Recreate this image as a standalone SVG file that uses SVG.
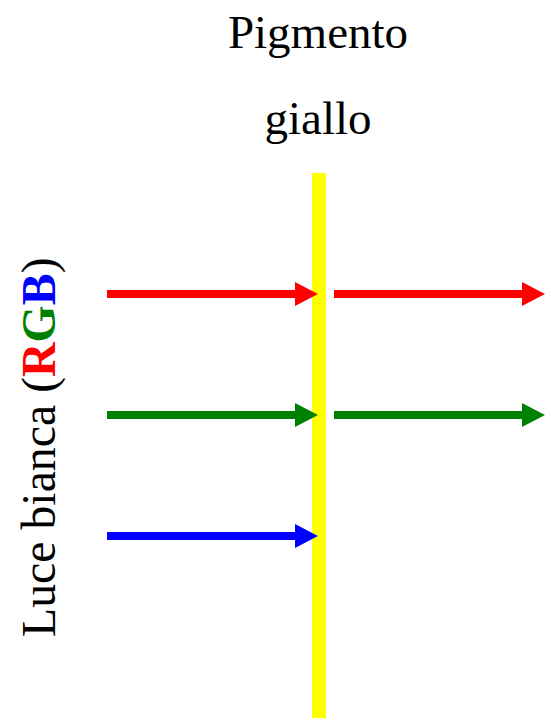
<svg xmlns="http://www.w3.org/2000/svg" width="551" height="725" viewBox="0 0 551 725">
<style>
text{font-family:'Liberation Serif','Times New Roman','DejaVu Serif',serif;font-size:47px;fill:#000}
.b{font-weight:bold}
</style>
<rect width="551" height="725" fill="#fff"/>
<g id="title">
<text x="318" y="48" text-anchor="middle">Pigmento</text>
<text x="318" y="134" text-anchor="middle">giallo</text>
</g>
<g id="pigment"><rect x="312" y="173" width="14" height="545" fill="#ffff00"/></g>
<g id="label"><text transform="translate(55,637) rotate(-90)" style="font-size:47.8px">Luce bianca (<tspan class="b" fill="#ff0000">R</tspan><tspan class="b" fill="#008000">G</tspan><tspan class="b" fill="#0000ff">B</tspan>)</text></g>
<g id="connectors">
<rect x="107" y="290" width="190" height="8" fill="#ff0000"/><polygon points="295,282 318,294 295,306" fill="#ff0000"/>
<rect x="334" y="290" width="190" height="8" fill="#ff0000"/><polygon points="522,282 545,294 522,306" fill="#ff0000"/>
<rect x="107" y="411" width="190" height="8" fill="#008000"/><polygon points="295,403 318,415 295,427" fill="#008000"/>
<rect x="334" y="411" width="190" height="8" fill="#008000"/><polygon points="522,403 545,415 522,427" fill="#008000"/>
<rect x="107" y="532" width="190" height="8" fill="#0000ff"/><polygon points="295,524 318,536 295,548" fill="#0000ff"/>
</g>
</svg>
